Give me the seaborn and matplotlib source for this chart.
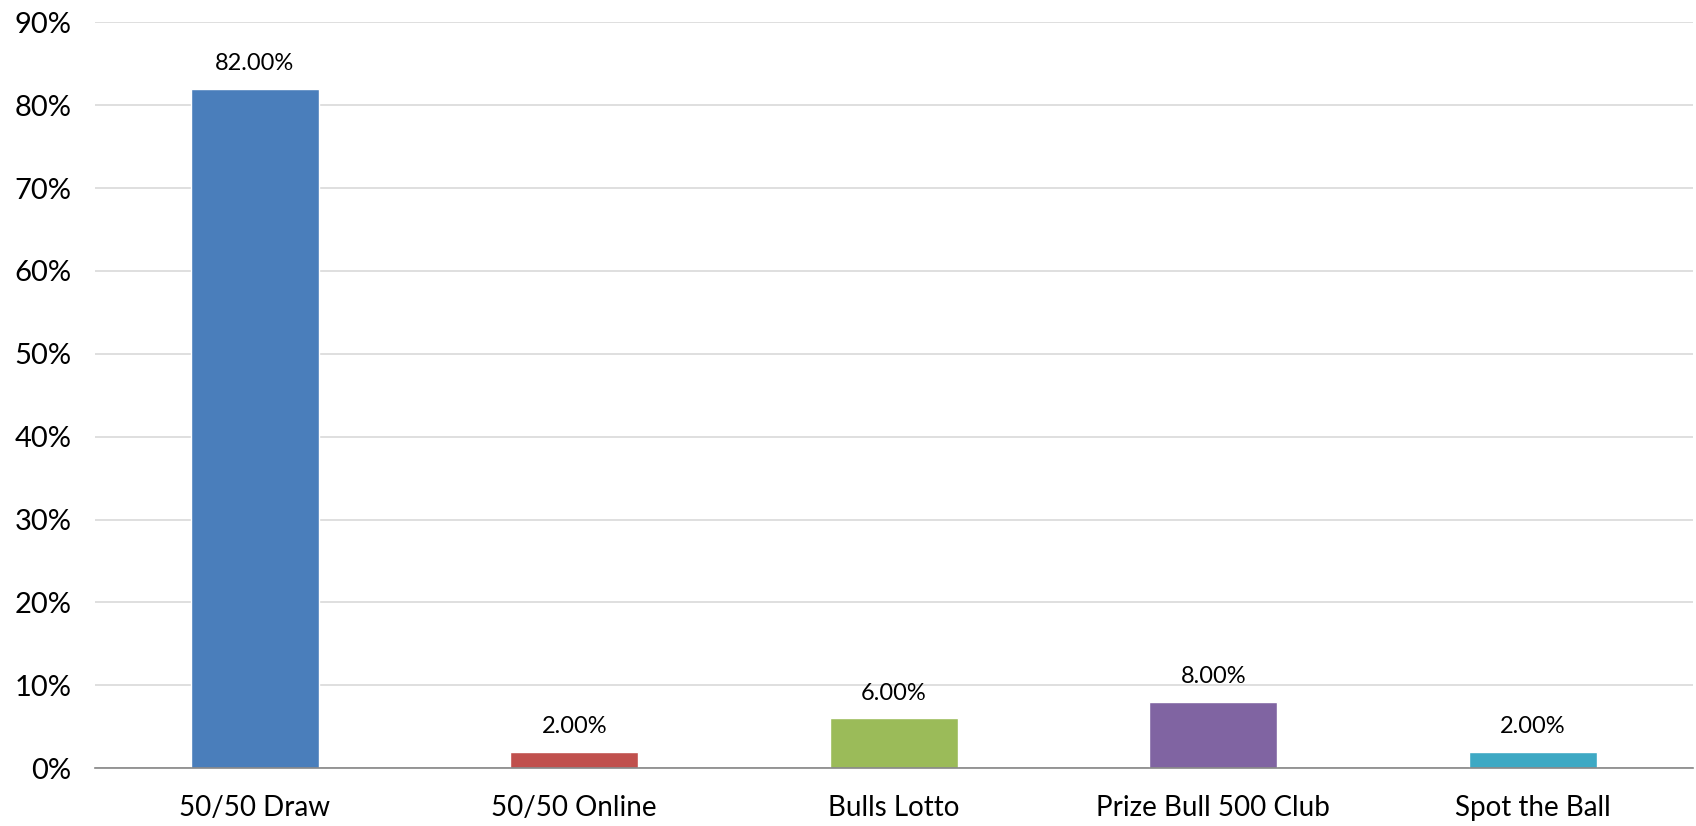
import matplotlib
matplotlib.use("Agg")
import matplotlib.pyplot as plt
import seaborn as sns
from matplotlib.ticker import PercentFormatter

# Data
categories = ['50/50 Draw', '50/50 Online', 'Bulls Lotto', 'Prize Bull 500 Club', 'Spot the Ball']
shares = [82, 2, 6, 8, 2]
colors = ['#4A7EBB', '#C0504D', '#9BBB59', '#8064A2', '#3EA9C4']

sns.set_style('white')
plt.rcParams['font.family'] = ['Lato', 'DejaVu Sans']

fig = plt.figure(figsize=(16.96, 8.26), dpi=100)
ax = fig.add_axes([0.056, 0.070, 0.942, 0.903])

sns.barplot(x=categories, y=shares, hue=categories, palette=colors,
            width=0.4, legend=False, ax=ax, saturation=1)

for i, v in enumerate(shares):
    ax.text(i, v + 1.8, f'{v:.2f}%', ha='center', va='bottom',
            fontsize=17, color='black')

ax.set_ylim(0, 90)
ax.set_yticks(range(0, 91, 10))
ax.yaxis.set_major_formatter(PercentFormatter(decimals=0))
ax.grid(axis='y', color='#D9D9D9', linewidth=1.2)
ax.set_axisbelow(True)
for s in ['top', 'right', 'left']:
    ax.spines[s].set_visible(False)
ax.spines['bottom'].set_color('#868686')
ax.spines['bottom'].set_linewidth(1.2)
ax.tick_params(axis='y', labelsize=21, length=0, pad=17, labelcolor='black')
ax.tick_params(axis='x', labelsize=20, length=0, pad=19, labelcolor='black')
ax.set_xlabel('')
ax.set_ylabel('')

fig.savefig('out.png', dpi=100)
